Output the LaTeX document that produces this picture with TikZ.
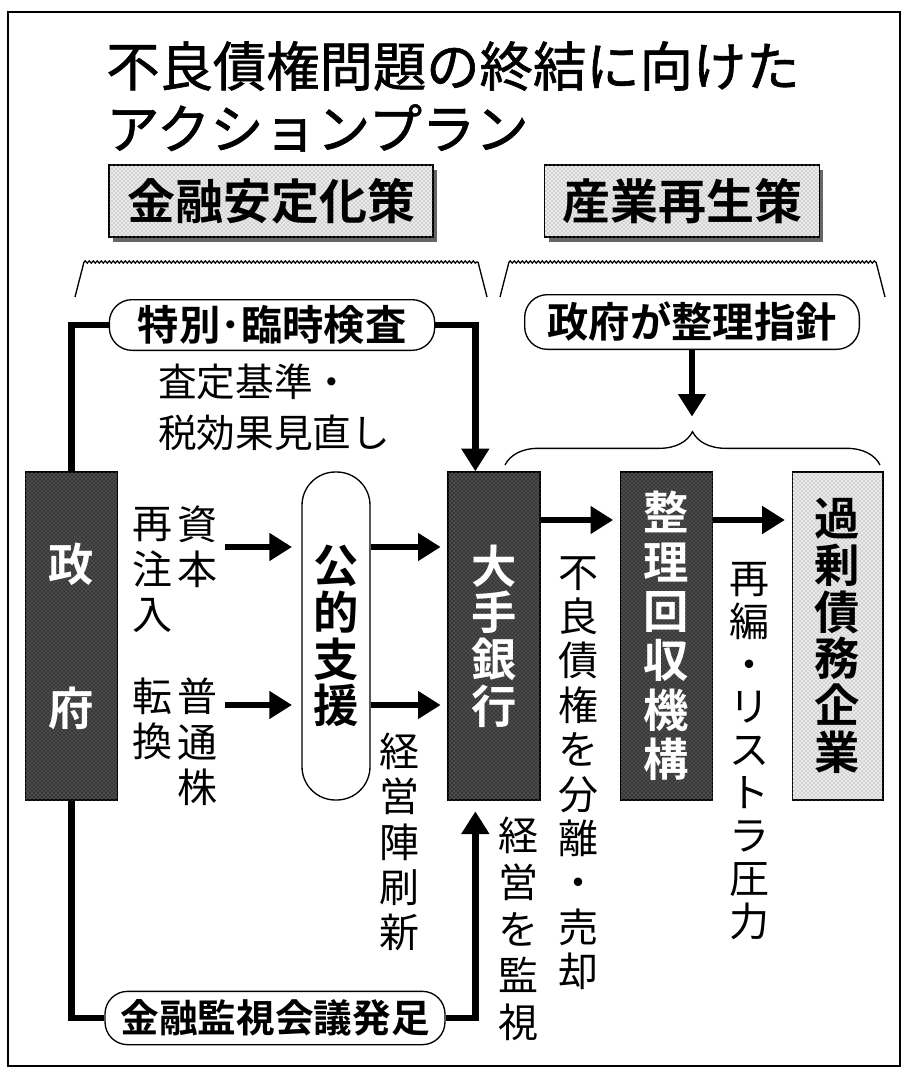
\documentclass[tikz,border=0pt]{standalone}
\usepackage{fontspec}
\setmainfont{Noto Sans CJK JP}[BoldFont={Noto Sans CJK JP Bold}]
\newfontfamily\titlefont{Noto Sans CJK JP}[FakeBold=1.2]
\usetikzlibrary{arrows.meta, patterns, shadows, calc, decorations.pathreplacing, decorations.pathmorphing}

\tikzset{
  frame/.style={line width=1.2pt},
  conn/.style={line width=5pt},
  arr/.style={conn, -{Triangle[length=17pt,width=20pt]}},
  darkbox/.style={draw, line width=1pt, fill=black!78,
    postaction={pattern=crosshatch dots, pattern color=white!55!black},
    text=white, align=center, inner sep=0pt,
    font=\bfseries\fontsize{34}{35}\selectfont,
    minimum width=69pt, minimum height=246pt},
  lightbox/.style={draw, line width=1pt, fill=black!8,
    postaction={pattern=crosshatch dots, pattern color=black!50},
    align=center, inner sep=0pt},
  headbox/.style={lightbox, font=\bfseries\fontsize{36}{38}\selectfont,
    drop shadow={shadow xshift=3pt, shadow yshift=-4pt, fill=black!60, opacity=1}},
  pill/.style={draw, line width=1pt, rounded corners=17pt, fill=white,
    font=\bfseries\fontsize{31}{33}\selectfont, inner sep=0pt},
  lbl/.style={align=center, inner sep=0pt, font=\fontsize{30}{34}\selectfont},
  rough/.style={line width=1pt},
}

\begin{document}
\begin{tikzpicture}[x=0.75pt, y=-0.75pt]
\useasboundingbox (0,0) rectangle (907,1077);
\draw[frame] (8,12) rectangle (900,1066);

% title
\node[anchor=west, inner sep=0pt, font=\titlefont\fontsize{40}{47}\selectfont] (title1) at (106,66) {不良債権問題の終結に向けた};
\node[anchor=west, inner sep=0pt, font=\titlefont\fontsize{40}{47}\selectfont] (title2) at (106,128) {アクションプラン};

% two policy headings
\node[headbox, minimum width=243pt, minimum height=54pt] (fin) at (271,201) {金融安定化策};
\node[headbox, minimum width=206pt, minimum height=54pt] (ind) at (682,201) {産業再生策};

% rough braces under the headings
\draw[rough] (75,297) -- (84,262);
\draw[rough, decorate, decoration={snake, amplitude=0.8pt, segment length=3pt}] (84,262) -- (478,262);
\draw[rough] (478,262) -- (487,297);
\draw[rough] (500,297) -- (509,262);
\draw[rough, decorate, decoration={snake, amplitude=0.8pt, segment length=3pt}] (509,262) -- (876,262);
\draw[rough] (876,262) -- (885,297);

% rounded boxes
\node[pill, minimum width=244pt, minimum height=38pt] (insp) at (272,325) {特別･臨時検査};
\node[pill, minimum width=251pt, minimum height=41pt] (guide) at (692,322) {政府が整理指針};
\node[pill, minimum width=255pt, minimum height=40pt, font=\bfseries\fontsize{29}{31}\selectfont] (council) at (275,1018) {金融監視会議発足};

% main row
\node[darkbox, font=\bfseries\fontsize{34}{108}\selectfont] (gov) at (71.5,636) {政\\府};
\node[draw, line width=1pt, rounded corners=25pt, fill=white, align=center, inner sep=0pt,
  font=\bfseries\fontsize{34}{35}\selectfont,
  minimum width=51pt, minimum height=246pt] (pub) at (336,636) {公\\的\\支\\援};
\node[darkbox] (bank) at (494,636) {大\\手\\銀\\行};
\node[darkbox, font=\bfseries\fontsize{34}{37}\selectfont] (rcc) at (666.5,636) {整\\理\\回\\収\\機\\構};
\node[lightbox, font=\bfseries\fontsize{34}{35}\selectfont,
  minimum width=68pt, minimum height=246pt] (firm) at (837.5,636) {過\\剰\\債\\務\\企\\業};

% labels
\node[anchor=west, align=left, inner sep=0pt, font=\fontsize{29}{38}\selectfont] (rev) at (158,407) {査定基準・\\税効果見直し};
\node[lbl] (capA) at (197,547) {資\\本};
\node[lbl] (capB) at (152,570) {再\\注\\入};
\node[lbl] (shrA) at (197,742) {普\\通\\株};
\node[lbl] (shrB) at (152,719) {転\\換};
\node[lbl] (renew) at (399,842) {経\\営\\陣\\刷\\新};
\node[lbl, font=\fontsize{30}{35}\selectfont] (watch) at (518,929) {経\\営\\を\\監\\視};
\node[lbl, font=\fontsize{30}{33.3}\selectfont] (sell) at (578,773) {不\\良\\債\\権\\を\\分\\離\\・\\売\\却};
\node[lbl, font=\fontsize{30}{32.2}\selectfont] (press) at (749,751) {再\\編\\・\\リ\\ス\\ト\\ラ\\圧\\力};

% arrow rows
\coordinate (r1) at (225,547);
\coordinate (r2) at (225,705);
\coordinate (r3) at (540,520);
\coordinate (tip) at (692,430);

\draw[arr, shorten >=7pt] (r1) -- (r1 -| pub.west);
\draw[arr, shorten >=7pt] (r2) -- (r2 -| pub.west);
\draw[arr, shorten >=5pt] (pub.east |- r1) -- (bank.west |- r1);
\draw[arr, shorten >=5pt] (pub.east |- r2) -- (bank.west |- r2);
\draw[arr, shorten >=5pt] (bank.east |- r3) -- (rcc.west |- r3);
\draw[arr, shorten >=5pt] (rcc.east |- r3) -- (firm.west |- r3);

% inspection and council loops
\draw[conn] (gov.north) |- (insp.west);
\draw[arr] (insp.east) -| ([xshift=-14pt]bank.north);
\draw[conn] (gov.south) |- (council.west);
\draw[arr, shorten >=8pt] (council.east) -| ([xshift=-14pt]bank.south);

% guideline arrow and brace
\draw[arr, shorten >=10pt] (guide.south) -- (tip);
\draw[rough, decorate, decoration={brace, amplitude=25pt}] (505,465) -- (880,465);
\end{tikzpicture}
\end{document}
